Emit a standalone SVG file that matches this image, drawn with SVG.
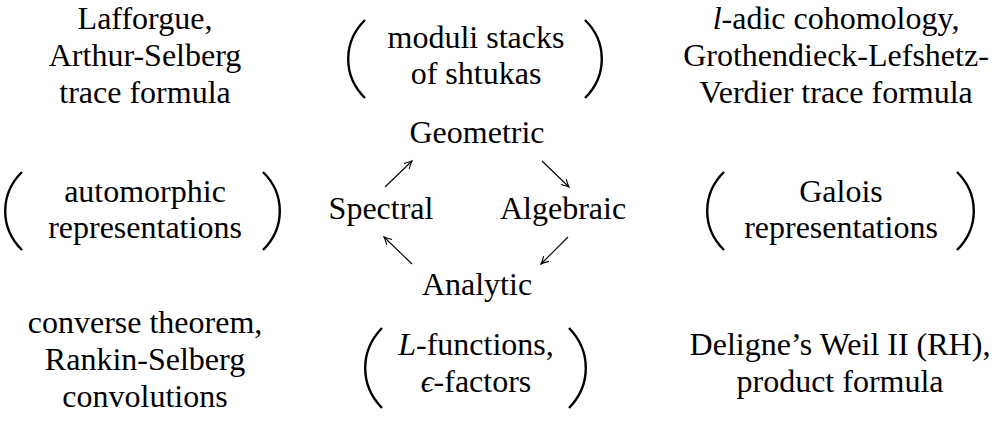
<svg xmlns="http://www.w3.org/2000/svg" width="1002" height="421" viewBox="0 0 1002 421">
<style>
text{font-family:"Liberation Serif","DejaVu Serif","Noto Serif",serif;font-size:32px;fill:#000;text-anchor:middle}
.it{font-style:italic}
.par{fill:none;stroke:#000;stroke-width:2.4}
.conn line{stroke:#000;stroke-width:1.1;fill:none}
</style>
<defs>
<marker id="ah" viewBox="-10 -6 12 12" markerWidth="12" markerHeight="12" refX="0" refY="0" orient="auto" markerUnits="userSpaceOnUse">
<path d="M-7.5,-3.8 Q-3,-1 0,0 Q-3,1 -7.5,3.8" fill="none" stroke="#000" stroke-width="1.1"/>
</marker>
</defs>
<rect width="1002" height="421" fill="#fff"/>

<g id="top-left">
<text x="145" y="29">Lafforgue,</text>
<text x="145" y="66">Arthur-Selberg</text>
<text x="145" y="103">trace formula</text>
</g>

<g id="top-center">
<path class="par" d="M365,20 C342.6,42 342.6,76 365,98"/>
<path class="par" d="M585,20 C607.4,42 607.4,76 585,98"/>
<text x="476" y="48">moduli stacks</text>
<text x="476" y="84">of shtukas</text>
</g>

<g id="top-right">
<text x="836" y="29"><tspan class="it">l</tspan>-adic cohomology,</text>
<text x="836" y="66">Grothendieck-Lefshetz-</text>
<text x="836" y="103">Verdier trace formula</text>
</g>

<g id="geometric"><text x="477" y="143">Geometric</text></g>
<g id="spectral"><text x="381" y="219">Spectral</text></g>
<g id="algebraic"><text x="563" y="219">Algebraic</text></g>
<g id="analytic"><text x="477" y="295">Analytic</text></g>

<g id="mid-left">
<path class="par" d="M22,172 C-0.4,194 -0.4,228 22,250"/>
<path class="par" d="M263,172 C285.4,194 285.4,228 263,250"/>
<text x="145" y="202">automorphic</text>
<text x="145" y="238">representations</text>
</g>

<g id="mid-right">
<path class="par" d="M724,172 C701.6,194 701.6,228 724,250"/>
<path class="par" d="M957,172 C979.4,194 979.4,228 957,250"/>
<text x="841" y="202">Galois</text>
<text x="841" y="238">representations</text>
</g>

<g id="bottom-left">
<text x="145" y="333">converse theorem,</text>
<text x="145" y="370">Rankin-Selberg</text>
<text x="145" y="407">convolutions</text>
</g>

<g id="bottom-center">
<path class="par" d="M382,328 C359.6,351 359.6,385 382,408"/>
<path class="par" d="M569,328 C591.4,351 591.4,385 569,408"/>
<text x="476" y="355"><tspan class="it">L</tspan>-functions,</text>
<text x="476" y="392"><tspan class="it">ϵ</tspan>-factors</text>
</g>

<g id="bottom-right">
<text x="840" y="355">Deligne’s Weil II (RH),</text>
<text x="840" y="392">product formula</text>
</g>

<g id="connectors" class="conn">
<line x1="385" y1="187" x2="412" y2="161" marker-end="url(#ah)"/>
<line x1="542" y1="161" x2="569" y2="187" marker-end="url(#ah)"/>
<line x1="568" y1="237" x2="541" y2="264" marker-end="url(#ah)"/>
<line x1="412" y1="264" x2="384" y2="237" marker-end="url(#ah)"/>
</g>
</svg>
